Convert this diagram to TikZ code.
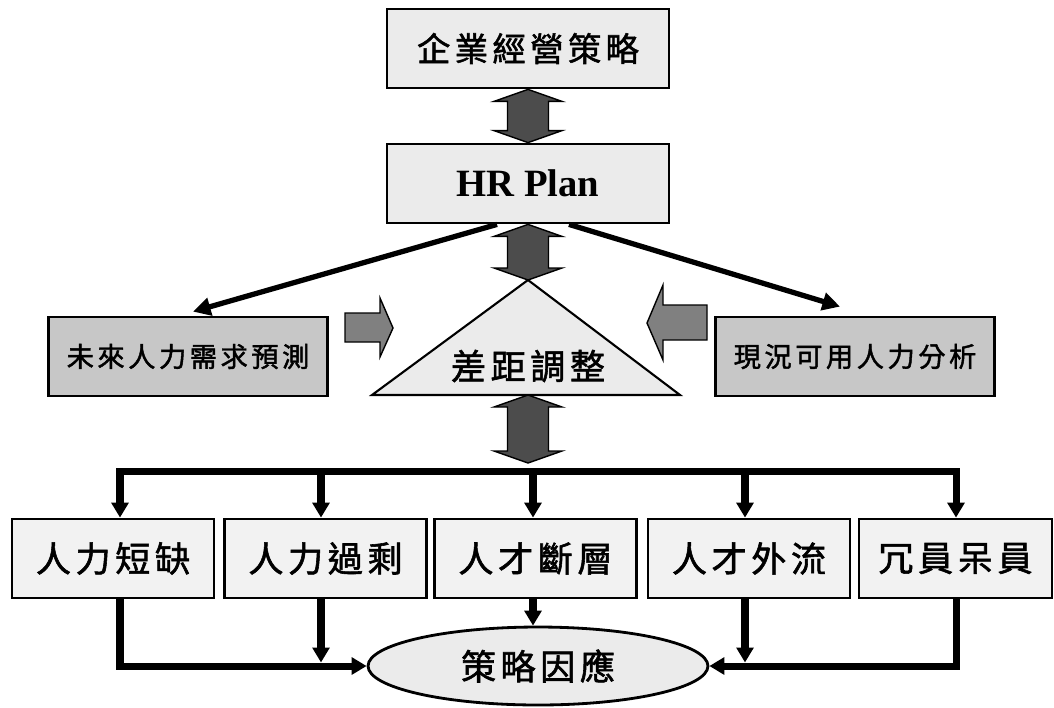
\documentclass[tikz,border=0pt]{standalone}
\usepackage{fontspec}
\setmainfont{Liberation Serif}
\newfontfamily\cjk{Noto Sans CJK TC}[LetterSpace=13, FakeBold=1.6]
\usetikzlibrary{calc,arrows.meta,shapes.geometric}

\definecolor{boxgray}{gray}{0.92}
\definecolor{lowgray}{gray}{0.95}
\definecolor{midgray}{gray}{0.78}
\definecolor{arrgray}{gray}{0.5}
\definecolor{dblgray}{gray}{0.3}

% vertical double block arrow between two points
\newcommand\dblarr[2]{%
  \draw[dbl] let \p1=(#1), \p2=(#2) in
    (\x1,\y1) -- (\x1+0.68cm,\y1-0.24cm) -- (\x1+0.41cm,\y1-0.24cm)
    -- (\x1+0.41cm,\y2+0.24cm) -- (\x1+0.68cm,\y2+0.24cm) -- (\x1,\y2)
    -- (\x1-0.68cm,\y2+0.24cm) -- (\x1-0.41cm,\y2+0.24cm)
    -- (\x1-0.41cm,\y1-0.24cm) -- (\x1-0.68cm,\y1-0.24cm) -- cycle;}

\begin{document}
\begin{tikzpicture}[x=0.02cm, y=-0.02cm,
  box/.style={draw, line width=1.6pt, inner sep=0pt, minimum height=1.58cm},
  topbox/.style={box, fill=boxgray, minimum width=5.64cm},
  sidebox/.style={box, fill=midgray, minimum width=5.58cm, font=\cjk\fontsize{15.5pt}{16pt}\selectfont},
  lowbox/.style={box, fill=lowgray, minimum width=4.04cm, font=\cjk\fontsize{20pt}{20pt}\selectfont},
  dbl/.style={draw, fill=dblgray, line width=0.8pt},
  blk/.style={draw, fill=arrgray, line width=0.8pt},
  flow/.style={line width=4pt},
  flowarr/.style={flow, -{Triangle[length=8.5pt,width=9.5pt]}},
  feed/.style={line width=3pt, -{Triangle[length=10pt,width=10pt]}}]
  \useasboundingbox (0,0) rectangle (1054,707);

  % top boxes
  \node [topbox, font=\cjk\fontsize{19pt}{19pt}\selectfont](strat) at (528,48.5) {企業經營策略};
  \node [topbox, font=\bfseries\fontsize{22pt}{22pt}\selectfont](hrplan) at (528,183.5) {HR Plan};

  % gap triangle
  \coordinate (gapT) at (528,280);
  \coordinate (gapB) at (528,395);
  \draw [fill=boxgray, line width=1.2pt] (gapT) -- (680,395) -- (372,395) -- cycle;
  \node [font=\cjk\fontsize{20pt}{20pt}\selectfont](gap) at (528,366) {差距調整};

  % demand / supply
  \node [sidebox](future) at (188,356.5) {未來人力需求預測};
  \node [sidebox](current) at (855,356.5) {現況可用人力分析};

  \dblarr{strat.south}{hrplan.north}
  \dblarr{hrplan.south}{gapT}
  \coordinate (busmid) at (528,463);
  \dblarr{gapB}{busmid}

  \draw [feed] ($(hrplan.south)+(-31,0)$) -- ($(future.north)+(5,-4)$);
  \draw [feed] ($(hrplan.south)+(41,0)$) -- ($(current.north)+(-15,-9)$);

  % block arrows towards the triangle
  \draw [blk] (345,313) -- (380,313) -- (380,298) -- (393,328) -- (380,357) -- (380,342) -- (345,342) -- cycle;
  \draw [blk] (707,305) -- (663,305) -- (663,285) -- (647,323) -- (663,360) -- (663,340) -- (707,340) -- cycle;

  % lower boxes
  \node [lowbox](short) at (113,558.5) {人力短缺};
  \node [lowbox](surplus) at (325.5,558.5) {人力過剩};
  \node [lowbox](gapjob) at (535.5,558.5) {人才斷層};
  \node [lowbox](outflow) at (749,558.5) {人才外流};
  \node [lowbox, minimum width=3.86cm](idle) at (955.5,558.5) {冗員呆員};

  \node [draw, ellipse, fill=boxgray, line width=1.6pt, inner sep=0pt,
    minimum width=6.8cm, minimum height=1.56cm,
    font=\cjk\fontsize{20pt}{20pt}\selectfont](resp) at (538,666) {策略因應};

  % bus
  \foreach \n/\xx in {1/120, 2/321, 3/533, 4/745, 5/956}
    \coordinate (bus\n) at (\xx,471.5);
  \draw [flow, line cap=rect] (bus1) -- (bus5);
  \foreach \n/\nm in {1/short, 2/surplus, 3/gapjob, 4/outflow, 5/idle}
    \draw [flowarr] (bus\n) -- (bus\n |- \nm.north);

  % into strategy response
  \draw [flowarr] (short.south -| bus1) |- (resp.west);
  \draw [flowarr] (idle.south -| bus5) |- (resp.east);
  \draw [flowarr, shorten >=2pt] (surplus.south -| bus2) -- (bus2 |- resp.west);
  \draw [flowarr, shorten >=2pt] (outflow.south -| bus4) -- (bus4 |- resp.east);
  \draw [flowarr] (gapjob.south -| bus3) -- (bus3 |- resp.north);
\end{tikzpicture}
\end{document}
